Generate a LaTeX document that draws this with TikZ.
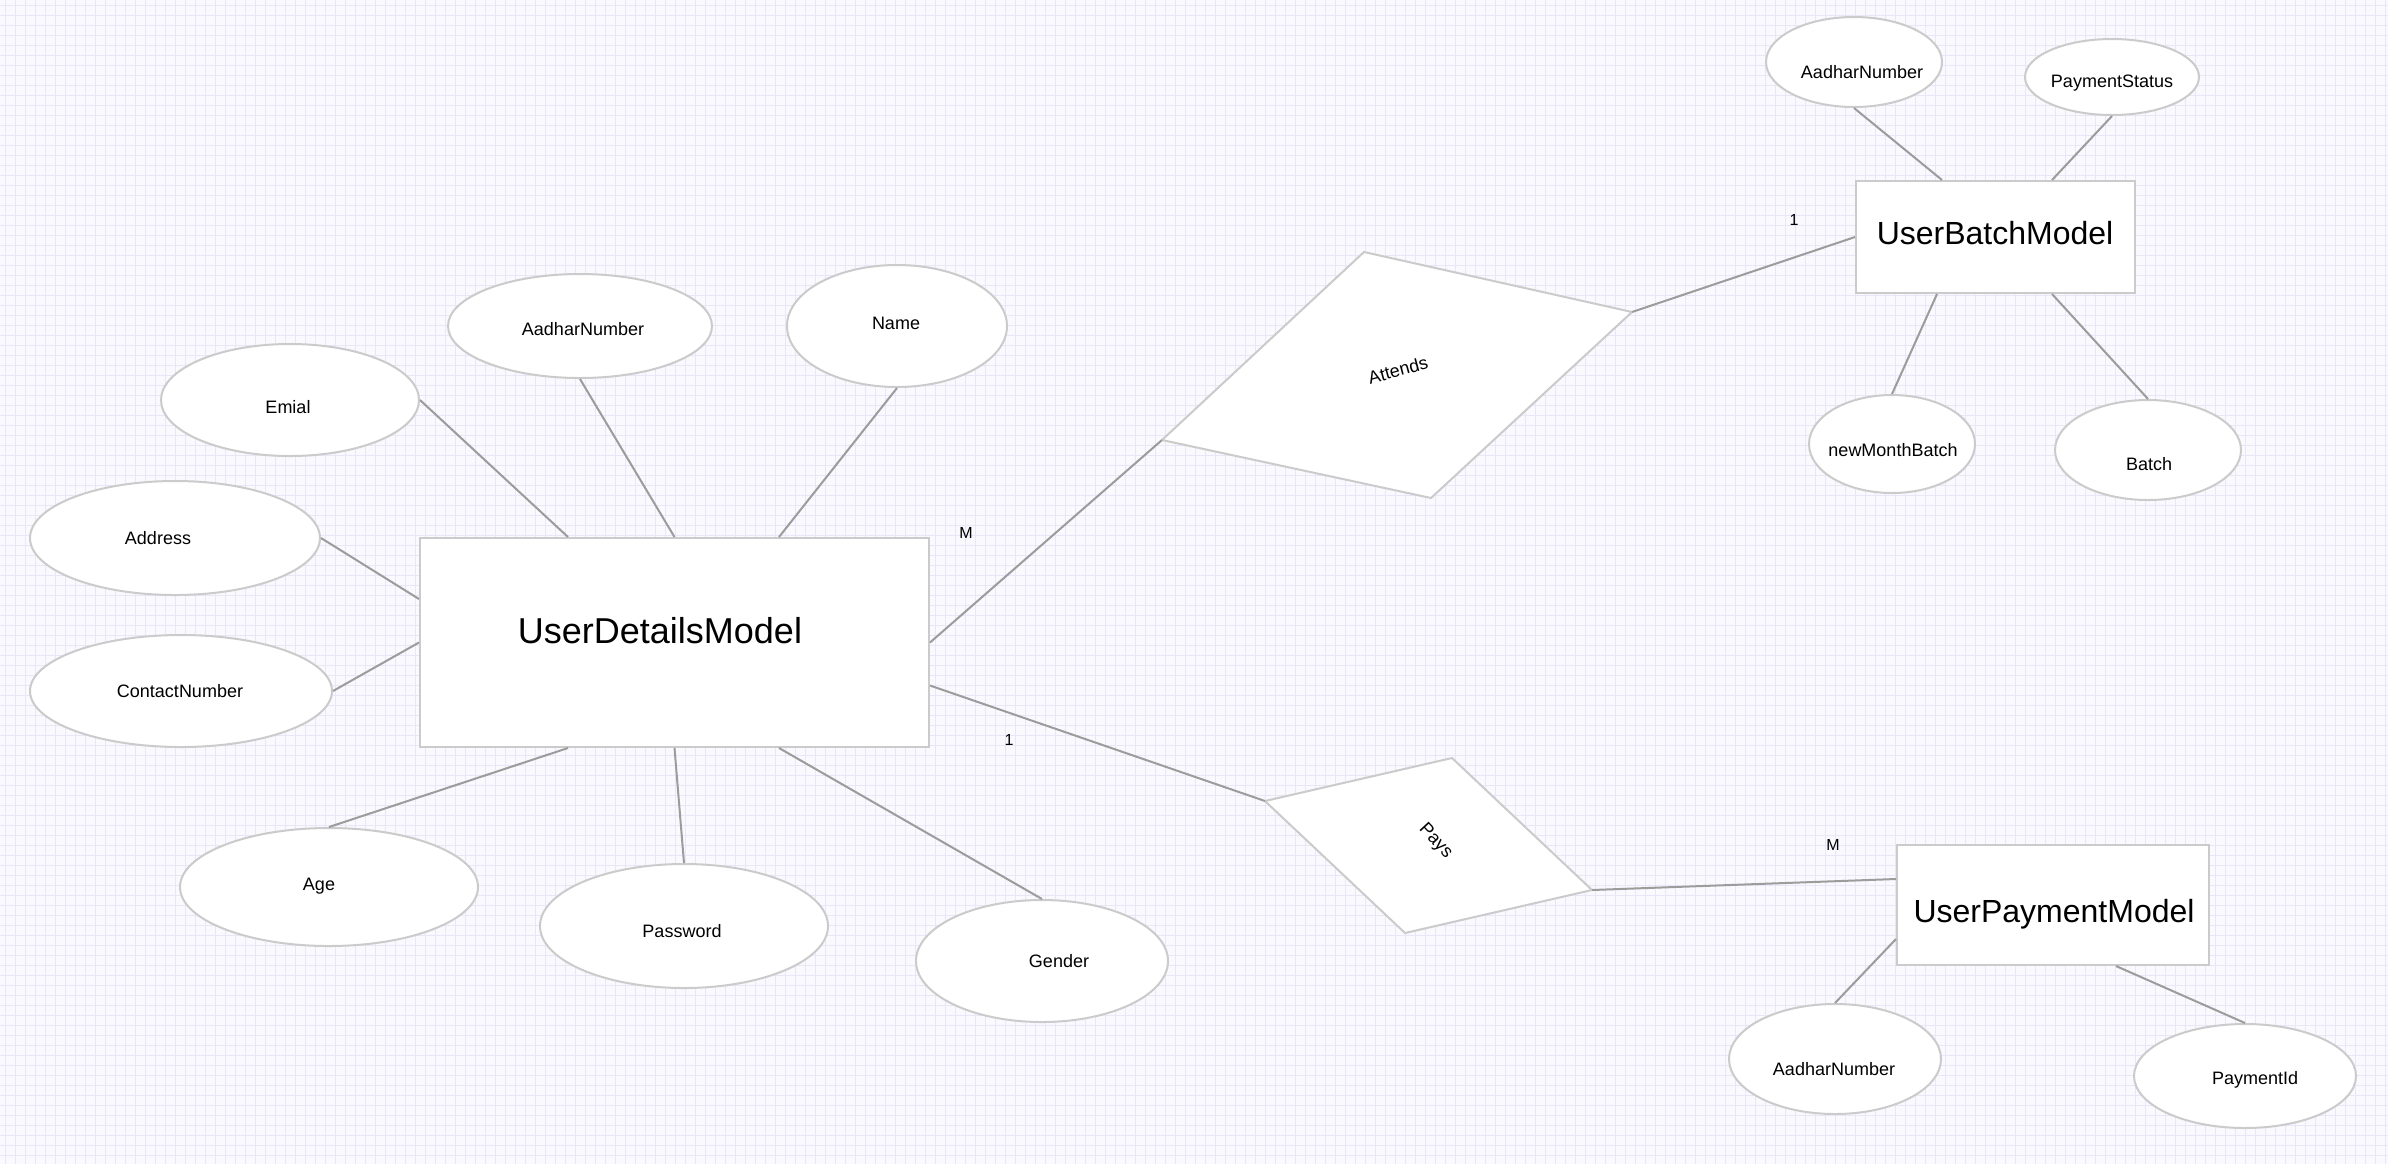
\documentclass[tikz,border=0pt]{standalone}
\usepackage{fontspec}
\setmainfont{Liberation Sans}
\usetikzlibrary{shapes.geometric,calc}
\definecolor{bgc}{HTML}{F9F9FE}
\definecolor{gridc}{HTML}{E7E7F8}
\definecolor{shapec}{HTML}{CBCBCB}
\definecolor{linec}{HTML}{9C9C9C}
\begin{document}
\begin{tikzpicture}[x=0.5pt,y=-0.5pt,
  entity/.style={draw=shapec, line width=1pt, fill=white, rectangle, inner sep=0pt},
  attrshape/.style={draw=shapec, line width=1pt, fill=white, ellipse, inner sep=0pt},
  attrtext/.style={font=\fontsize{9pt}{11pt}\selectfont, inner sep=0pt, text height=6.5pt, text depth=0pt},
  bigtext/.style={font=\fontsize{18pt}{21pt}\selectfont, inner sep=0pt, text height=13pt, text depth=0pt},
  midtext/.style={font=\fontsize{16pt}{19pt}\selectfont, inner sep=0pt, text height=11.5pt, text depth=0pt},
  card/.style={font=\fontsize{8pt}{10pt}\selectfont, inner sep=0pt, text height=5.8pt, text depth=0pt},
  conn/.style={draw=linec, line width=1pt},
  rel/.style={draw=shapec, line width=1pt, fill=white, line join=miter},
  gridline/.style={draw=gridc, line width=0.5pt}]

% background and grid
\fill[bgc] (0,0) rectangle (2388,1164);
\useasboundingbox (0,0) rectangle (2388,1164);
\foreach \x in {5,15,...,2385} \draw[gridline] (\x,0) -- (\x,1164);
\foreach \y in {5,15,...,1155} \draw[gridline] (0,\y) -- (2388,\y);

% ---------- entities ----------
\node[entity, minimum width=254.5pt, minimum height=104.5pt] (ud) at (674.5,642.5) {};
\node[bigtext] (udT) at (660,630) {UserDetailsModel};

\node[entity, minimum width=139.5pt, minimum height=56pt] (ub) at (1995.5,237) {};
\node[midtext] (ubT) at (1995,233) {UserBatchModel};

\node[entity, minimum width=156pt, minimum height=60pt] (up) at (2053,905) {};
\node[midtext] (upT) at (2054,911) {UserPaymentModel};

% ---------- attributes of UserDetailsModel ----------
\node[attrshape, minimum width=129pt, minimum height=56pt] (emial) at (290,400) {};
\node[attrtext] (emialT) at (288,407) {Emial};
\node[attrshape, minimum width=132pt, minimum height=52pt] (aadharA) at (580,326) {};
\node[attrtext] (aadharAT) at (583,329) {AadharNumber};
\node[attrshape, minimum width=110pt, minimum height=61pt] (name) at (897,326) {};
\node[attrtext] (nameT) at (896,323) {Name};
\node[attrshape, minimum width=145pt, minimum height=57pt] (address) at (175,538) {};
\node[attrtext] (addressT) at (158,538) {Address};
\node[attrshape, minimum width=151pt, minimum height=56pt] (contact) at (181,691) {};
\node[attrtext] (contactT) at (180,691) {ContactNumber};
\node[attrshape, minimum width=149pt, minimum height=59pt] (age) at (329,887) {};
\node[attrtext] (ageT) at (319,884) {Age};
\node[attrshape, minimum width=144pt, minimum height=62pt] (password) at (684,926) {};
\node[attrtext] (passwordT) at (682,931) {Password};
\node[attrshape, minimum width=126pt, minimum height=61pt] (gender) at (1042,961) {};
\node[attrtext] (genderT) at (1059,961) {Gender};

% ---------- attributes of UserBatchModel ----------
\node[attrshape, minimum width=88pt, minimum height=45pt] (aadharB) at (1854,62) {};
\node[attrtext] (aadharBT) at (1862,72) {AadharNumber};
\node[attrshape, minimum width=87pt, minimum height=38pt] (paystatus) at (2112,77) {};
\node[attrtext] (paystatusT) at (2112,81) {PaymentStatus};
\node[attrshape, minimum width=83pt, minimum height=49pt] (newmonth) at (1892,444) {};
\node[attrtext] (newmonthT) at (1893,450) {newMonthBatch};
\node[attrshape, minimum width=93pt, minimum height=50pt] (batch) at (2148,450) {};
\node[attrtext] (batchT) at (2149,464) {Batch};

% ---------- attributes of UserPaymentModel ----------
\node[attrshape, minimum width=106pt, minimum height=55pt] (aadharC) at (1835,1059) {};
\node[attrtext] (aadharCT) at (1834,1069) {AadharNumber};
\node[attrshape, minimum width=111pt, minimum height=52pt] (paymentid) at (2245,1076) {};
\node[attrtext] (paymentidT) at (2255,1078) {PaymentId};

% ---------- relationships ----------
\coordinate (attTop) at (1364,252);
\coordinate (attR) at (1632,312);
\coordinate (attBot) at (1431,498);
\coordinate (attL) at (1162,440);
\draw[rel] (attTop) -- (attR) -- (attBot) -- (attL) -- cycle;
\node[attrtext, rotate=15] (attT) at (1398,370) {Attends};

\coordinate (payTop) at (1452,758);
\coordinate (payR) at (1592,890);
\coordinate (payBot) at (1405,933);
\coordinate (payL) at (1265,801);
\draw[rel] (payTop) -- (payR) -- (payBot) -- (payL) -- cycle;
\node[attrtext, rotate=-47] (payT) at (1437,840) {Pays};

% ---------- connectors ----------
\draw[conn] (emial.east) -- ($(ud.north west)+(149,0)$);
\draw[conn] (aadharA.south) -- (ud.north);
\draw[conn] (name.south) -- ($(ud.north west)+(360,0)$);
\draw[conn] (address.east) -- ($(ud.north west)+(0,62)$);
\draw[conn] (contact.east) -- (ud.west);
\draw[conn] (age.north) -- ($(ud.south west)+(149,0)$);
\draw[conn] (password.north) -- (ud.south);
\draw[conn] (gender.north) -- ($(ud.south west)+(360,0)$);
\draw[conn] (ud.east) -- (attL);
\draw[conn] (attR) -- (ub.west);
\draw[conn] ($(ud.east)+(0,43)$) -- (payL);
\draw[conn] (payR) -- ($(up.north west)+(0,35)$);
\draw[conn] (aadharB.south) -- ($(ub.north west)+(87,0)$);
\draw[conn] (paystatus.south) -- ($(ub.north west)+(197,0)$);
\draw[conn] (newmonth.north) -- ($(ub.south west)+(82,0)$);
\draw[conn] (batch.north) -- ($(ub.south west)+(197,0)$);
\draw[conn] (aadharC.north) -- ($(up.north west)+(0,95)$);
\draw[conn] (paymentid.north) -- ($(up.south west)+(220,0)$);

% ---------- cardinalities ----------
\node[card] (cardM1) at (966,533) {M};
\node[card] (card11) at (1009,740) {1};
\node[card] (card12) at (1794,220) {1};
\node[card] (cardM2) at (1833,845) {M};
\end{tikzpicture}
\end{document}
